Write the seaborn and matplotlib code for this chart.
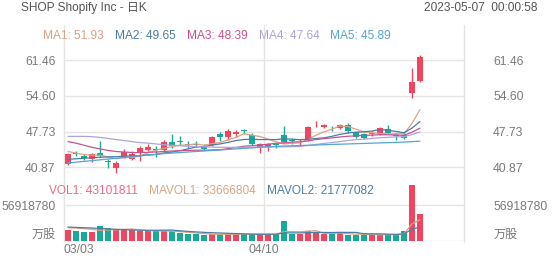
import matplotlib
matplotlib.use('Agg')
import matplotlib.pyplot as plt
import matplotlib.transforms as mtransforms
from matplotlib.lines import Line2D
import seaborn as sns
import pandas as pd

# ---------------- data ----------------
dates = ['03/03', '04/10']
date_idx = [0, 25]

opens  = [41.5, 43.6, 43.05, 42.4, 43.7, 42.0, 40.7, 42.9, 42.5, 43.6,
          44.2, 44.25, 44.2, 45.8, 45.85, 45.3, 45.3, 45.0, 45.2, 47.2,
          46.6, 47.35, 47.9, 47.1, 44.85, 44.85, 45.2, 47.1, 46.05, 45.65,
          46.27, 49.1, 48.6, 48.45, 48.4, 49.0, 47.55, 47.3, 47.35, 47.3,
          48.2, 46.95, 47.1, 55.1, 57.5]
highs  = [43.6, 43.9, 43.4, 43.7, 46.0, 42.5, 42.0, 44.3, 43.9, 44.9,
          45.3, 44.9, 46.2, 47.3, 46.8, 45.9, 45.9, 45.3, 46.95, 47.6,
          48.3, 48.0, 48.2, 47.5, 45.5, 45.6, 45.6, 48.8, 46.5, 46.3,
          48.7, 49.7, 49.2, 48.8, 49.2, 49.3, 47.7, 47.5, 47.8, 48.6,
          49.0, 47.4, 47.7, 60.0, 62.5]
lows   = [41.3, 43.0, 42.2, 41.9, 42.8, 40.7, 39.85, 42.6, 42.2, 42.1,
          43.9, 42.8, 44.0, 44.6, 45.2, 44.6, 44.7, 44.2, 45.0, 46.0,
          46.2, 46.6, 47.3, 45.1, 43.6, 43.9, 44.5, 45.5, 45.4, 45.1,
          45.9, 48.6, 48.4, 47.9, 48.2, 47.5, 46.5, 46.3, 46.9, 47.1,
          47.2, 46.2, 46.3, 54.2, 57.2]
closes = [43.4, 43.5, 42.6, 43.4, 43.06, 41.8, 41.65, 43.8, 43.4, 44.5,
          44.85, 44.15, 45.7, 45.0, 45.75, 45.2, 45.2, 44.35, 46.65, 46.65,
          47.8, 47.65, 47.8, 45.3, 45.3, 45.3, 45.1, 45.7, 45.95, 45.75,
          48.57, 49.2, 49.0, 48.35, 49.0, 47.9, 46.65, 46.45, 47.45, 48.4,
          47.4, 46.85, 46.45, 57.3, 62.0]
volumes = [17.0, 15.5, 13.5, 14.5, 23.0, 21.0, 17.0, 17.0, 17.0, 15.5,
           15.5, 15.5, 15.5, 15.5, 12.0, 10.4, 10.4, 10.0, 11.0, 11.0,
           11.0, 10.4, 11.0, 11.0, 11.0, 10.4, 10.4, 31.0, 11.0, 10.4,
           15.5, 13.5, 10.4, 10.4, 13.5, 10.2, 10.2, 8.9, 10.1, 10.1,
           10.5, 10.5, 15.5, 88.7, 43.1]  # millions of shares

ma1 = [43.9, 43.6, 43.3, 43.2, 43.19, 42.87, 42.50, 42.74, 42.74, 43.03,
       43.64, 44.14, 44.52, 44.84, 45.09, 45.16, 45.37, 45.10, 45.43, 45.61,
       46.13, 46.62, 47.31, 47.04, 46.77, 46.27, 45.76, 45.34, 45.47, 45.56,
       46.21, 47.03, 47.69, 48.17, 48.82, 48.69, 48.18, 47.67, 47.49, 47.37,
       47.27, 47.31, 47.31, 49.28, 51.93]
ma2 = [42.4, 42.5, 42.6, 42.7, 42.8, 42.85, 42.9, 43.0, 43.05, 43.11,
       43.26, 43.32, 43.63, 43.79, 44.06, 44.40, 44.76, 44.81, 45.14, 45.35,
       45.65, 46.00, 46.21, 46.24, 46.19, 46.20, 46.19, 46.33, 46.26, 46.17,
       46.24, 46.40, 46.52, 46.82, 47.19, 47.45, 47.61, 47.68, 47.83, 48.10,
       47.98, 47.75, 47.49, 48.39, 49.65]
ma3 = [45.8, 45.5, 45.1, 44.7, 44.4, 44.1, 43.9, 43.8, 43.7, 43.7,
       43.75, 43.8, 43.9, 44.0, 44.05, 44.1, 44.15, 44.15, 44.2, 44.23,
       44.45, 44.66, 44.92, 45.01, 45.13, 45.30, 45.47, 45.57, 45.70, 45.76,
       45.94, 46.20, 46.36, 46.53, 46.69, 46.83, 46.90, 47.00, 47.04, 47.13,
       47.11, 47.07, 47.00, 47.60, 48.39]
ma4 = [46.8, 46.8, 46.8, 46.75, 46.6, 46.4, 46.2, 46.0, 45.8, 45.6,
       45.5, 45.35, 45.2, 45.1, 45.0, 44.9, 44.85, 44.8, 44.75, 44.7,
       44.7, 44.7, 44.7, 44.72, 44.74, 44.76, 44.78, 44.8, 44.84, 44.88,
       45.05, 45.24, 45.45, 45.62, 45.81, 46.02, 46.18, 46.27, 46.41, 46.54,
       46.62, 46.71, 46.74, 47.15, 47.64]
ma5 = [41.7, 41.85, 42.0, 42.15, 42.3, 42.45, 42.6, 42.75, 42.9, 43.05,
       43.2, 43.35, 43.5, 43.6, 43.7, 43.8, 43.9, 44.0, 44.1, 44.2,
       44.3, 44.4, 44.5, 44.6, 44.7, 44.8, 44.9, 44.95, 45.0, 45.05,
       45.1, 45.15, 45.2, 45.25, 45.3, 45.35, 45.4, 45.45, 45.5, 45.55,
       45.6, 45.65, 45.7, 45.8, 45.89]
mavol1 = [21.0, 20.5, 19.5, 18.5, 16.7, 17.5, 17.8, 18.5, 19.0, 17.5,
          16.4, 16.1, 15.8, 15.5, 14.8, 13.8, 12.8, 11.7, 10.8, 10.6,
          10.7, 10.7, 10.9, 10.9, 10.9, 10.8, 10.8, 14.8, 14.8, 14.6,
          15.7, 16.3, 12.2, 12.0, 12.7, 11.6, 10.9, 10.6, 10.6, 9.9,
          10.0, 10.0, 11.3, 27.1, 33.67]
mavol2 = [22.0, 21.5, 21.0, 20.5, 20.0, 19.0, 18.5, 18.0, 17.5, 17.1,
          16.95, 16.95, 17.15, 17.25, 16.15, 15.1, 14.4, 13.7, 13.1, 12.7,
          12.2, 11.7, 11.3, 10.8, 10.7, 10.7, 10.7, 12.8, 12.8, 12.8,
          13.2, 13.5, 13.5, 13.4, 13.7, 13.6, 13.6, 11.4, 11.3, 11.3,
          10.8, 10.5, 11.0, 18.8, 21.78]

price_ticks = [40.87, 47.73, 54.60, 61.46]
price_tick_labels = ['40.87', '47.73', '54.60', '61.46']
vol_tick = 56918780
vol_tick_label = '56918780'
vol_unit = '万股'

title = 'SHOP Shopify Inc - 日K'
stamp = '2023-05-07  00:00:58'
ma_labels = ['MA1: 51.93', 'MA2: 49.65', 'MA3: 48.39', 'MA4: 47.64', 'MA5: 45.89']
vol_labels = ['VOL1: 43101811', 'MAVOL1: 33666804', 'MAVOL2: 21777082']

# ---------------- style ----------------
UP = '#f0455f'
DOWN = '#17a99a'
MA_COLORS = ['#dca283', '#4a7ea6', '#c8528f', '#aaa6dc', '#55a6d0']
VOL_COLORS = ['#ec6a80', '#d9a482', '#4a7ea6']
GRID = '#e4e4e4'
TXT = '#7a7a7a'

sns.set_style('white')
plt.rcParams['font.family'] = ['Liberation Sans', 'Noto Sans CJK SC', 'DejaVu Sans']
plt.rcParams['font.size'] = 8.7

W, H = 552, 265
fig = plt.figure(figsize=(W / 100, H / 100), dpi=100)


def fx(px):
    return px / W


def fy(py):
    return 1 - py / H


X0, X1 = 64, 464
ax = fig.add_axes([fx(X0), fy(180), fx(X1 - X0), (180 - 45) / H])
axv = fig.add_axes([fx(X0), fy(241), fx(X1 - X0), (241 - 183) / H])

n = len(closes)
idx = list(range(n))
df = pd.DataFrame({'i': idx, 'open': opens, 'high': highs, 'low': lows,
                   'close': closes, 'vol': [v * 1e6 for v in volumes]})
df['color'] = [UP if c >= o else DOWN for o, c in zip(opens, closes)]

for a in (ax, axv):
    a.set_xlim(-0.5, 49.5)
    for s in a.spines.values():
        s.set_visible(False)
    a.set_xticks([])
    a.patch.set_alpha(0)

# ---- price panel ----
ax.set_ylim(38.43, 64.34)
for t in price_ticks:
    ax.axhline(t, color=GRID, lw=1, zorder=0)

body_bottom = [min(o, c) for o, c in zip(opens, closes)]
body_h = [max(abs(c - o), 0.15) for o, c in zip(opens, closes)]
ax.vlines(df['i'], df['low'], df['high'], colors=df['color'], lw=1, zorder=2)
ax.bar(df['i'], body_h, bottom=body_bottom, width=0.72, color=df['color'],
       linewidth=0, zorder=3)

for ma, col in zip([ma1, ma2, ma3, ma4, ma5], MA_COLORS):
    sns.lineplot(x=idx, y=ma, ax=ax, color=col, linewidth=0.9, zorder=4)

ax.set_yticks(price_ticks)
ax.set_yticklabels(price_tick_labels)
ax.tick_params(axis='y', length=0, pad=6, labelcolor=TXT, labelsize=8.7)
axr = ax.twinx()
axr.set_ylim(ax.get_ylim())
axr.set_yticks(price_ticks)
axr.set_yticklabels(price_tick_labels)
axr.tick_params(axis='y', length=0, pad=21, labelcolor=TXT, labelsize=8.7)
for s in axr.spines.values():
    s.set_visible(False)

# ---- volume panel ----
axv.set_ylim(0, vol_tick * 58 / 36)
axv.axhline(vol_tick, color=GRID, lw=1, zorder=0)
axv.axhline(0, color=GRID, lw=1, zorder=0)
axv.bar(df['i'], df['vol'], width=0.75, color=df['color'], linewidth=0, zorder=3)
for mv, col in zip([mavol1, mavol2], [VOL_COLORS[1], VOL_COLORS[2]]):
    sns.lineplot(x=idx, y=[m * 1e6 for m in mv], ax=axv, color=col,
                 linewidth=0.9, zorder=4)
axv.set_yticks([0, vol_tick])
axv.set_yticklabels([vol_unit, vol_tick_label])
axv.tick_params(axis='y', length=0, pad=6, labelcolor=TXT, labelsize=8.7)
axvr = axv.twinx()
axvr.set_ylim(axv.get_ylim())
axvr.set_yticks([0, vol_tick])
axvr.set_yticklabels([vol_unit, vol_tick_label])
axvr.tick_params(axis='y', length=0, pad=21, labelcolor=TXT, labelsize=8.7)
for s in axvr.spines.values():
    s.set_visible(False)
for lab in axv.get_yticklabels() + axvr.get_yticklabels():
    if lab.get_text() == vol_unit:
        lab.set_verticalalignment('bottom')
axv.set_ylabel('')
ax.set_ylabel('')

# ---- vertical grid lines spanning both panels ----
bt = mtransforms.blended_transform_factory(ax.transData, fig.transFigure)
for xv in (-0.5, 24.5, 49.5):
    fig.add_artist(Line2D([xv, xv], [fy(25), fy(242)], transform=bt,
                          color=GRID, lw=1, zorder=0))

# ---- date labels ----
for d, i in zip(dates, date_idx):
    if i == 0:
        t = fig.text(-0.5, fy(250), d, ha='left', va='center', color=TXT, fontsize=8.7)
    else:
        t = fig.text(24.5, fy(250), d, ha='center', va='center', color=TXT, fontsize=8.7)
    t.set_transform(bt)

# ---- header texts ----
fig.text(fx(21), fy(8), title, ha='left', va='center', color='#555555', fontsize=8.6)
fig.text(fx(538), fy(8), stamp, ha='right', va='center', color='#555555', fontsize=8.6)
for lab, col, xp in zip(ma_labels, MA_COLORS, [43, 115, 187, 259, 330]):
    fig.text(fx(xp), fy(36), lab, ha='left', va='center', color=col, fontsize=8.6)
for lab, col, xp in zip(vol_labels, VOL_COLORS, [49, 149, 267]):
    fig.text(fx(xp), fy(191), lab, ha='left', va='center', color=col, fontsize=8.6)

fig.savefig('out.png', dpi=100)
